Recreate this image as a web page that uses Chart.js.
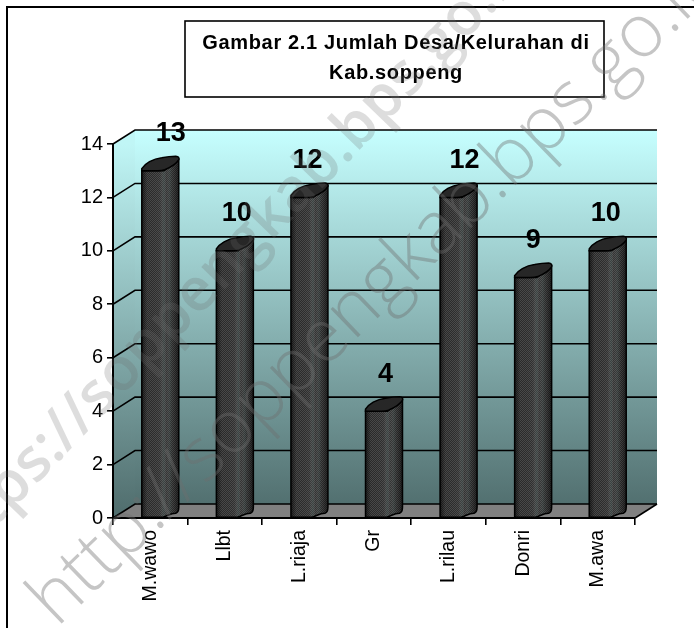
<!DOCTYPE html>
<html>
<head>
<meta charset="utf-8">
<style>html,body{margin:0;padding:0;background:#fff}canvas{display:block}</style>
<script src="https://cdn.jsdelivr.net/npm/chart.js@4"></script>
</head>
<body>
<canvas id="c" width="694" height="628"></canvas>
<script>
const categories = ['M.wawo', 'Llbt', 'L.riaja', 'Gr', 'L.rilau', 'Donri', 'M.awa'];
const villageCounts = [13, 10, 12, 4, 12, 9, 10];
const yTickValues = [0, 2, 4, 6, 8, 10, 12, 14];
const titleLines = ['Gambar 2.1 Jumlah Desa/Kelurahan di', 'Kab.soppeng'];
const watermarkThin = 'http://soppengkab.bps.go.id';
const watermarkBold = 'https://soppengkab.bps.go.id';

const FONT = '"Liberation Sans", Arial, sans-serif';
const DX = 22, DY = -14;          // 3D depth of the box
const BAR_W = 37, BAR_SHIFT = 10; // cylinder width, shift from band centre
const labelNudge = [10.5, 2, -2, 1.5, 6, 0, -2]; // label offsets seen in the reference

function dotPattern(ctx) {
  const p = document.createElement('canvas');
  p.width = p.height = 2;
  const g = p.getContext('2d');
  g.fillStyle = '#2a2a2a'; g.fillRect(0, 0, 2, 2);
  g.fillStyle = '#484848'; g.fillRect(0, 0, 1, 1); g.fillRect(1, 1, 1, 1);
  return ctx.createPattern(p, 'repeat');
}

const box3d = {
  id: 'box3d',
  beforeDraw(chart) {
    const { ctx, chartArea: a, scales: { y } } = chart;
    const top = y.getPixelForValue(14), bot = y.getPixelForValue(0);
    const grad = ctx.createLinearGradient(0, top + DY, 0, bot + DY);
    grad.addColorStop(0, '#c6ffff');
    grad.addColorStop(1, '#527070');
    ctx.save();
    ctx.fillStyle = grad;
    ctx.fillRect(a.left + DX, top + DY, a.right - a.left, bot - top);
    const grad2 = ctx.createLinearGradient(0, top, 0, bot);
    grad2.addColorStop(0, '#c0f6f6');
    grad2.addColorStop(1, '#4f6c6c');
    ctx.fillStyle = grad2;
    ctx.beginPath();
    ctx.moveTo(a.left, top); ctx.lineTo(a.left + DX, top + DY);
    ctx.lineTo(a.left + DX, bot + DY); ctx.lineTo(a.left, bot);
    ctx.closePath(); ctx.fill();
    ctx.fillStyle = '#808080';
    ctx.beginPath();
    ctx.moveTo(a.left, bot); ctx.lineTo(a.left + DX, bot + DY);
    ctx.lineTo(a.right + DX, bot + DY); ctx.lineTo(a.right, bot);
    ctx.closePath(); ctx.fill();
    ctx.strokeStyle = '#000'; ctx.lineWidth = 1.6;
    yTickValues.forEach(v => {
      const py = y.getPixelForValue(v);
      ctx.beginPath();
      ctx.moveTo(a.left, py); ctx.lineTo(a.left + DX, py + DY);
      ctx.lineTo(a.right + DX, py + DY);
      ctx.stroke();
    });
    ctx.beginPath();
    ctx.moveTo(a.right, bot); ctx.lineTo(a.right + DX, bot + DY);
    ctx.stroke();
    ctx.restore();
  },
  beforeDatasetDraw() { return false; },
  afterDatasetsDraw(chart) {
    const { ctx } = chart;
    const meta = chart.getDatasetMeta(0);
    const pat = dotPattern(ctx);
    meta.data.forEach((el, i) => {
      const x0 = el.x + BAR_SHIFT - BAR_W / 2, x1 = x0 + BAR_W;
      const t = el.y, b = el.base;
      ctx.save();
      const body = new Path2D();
      body.moveTo(x0, t);
      body.lineTo(x0, b);
      body.lineTo(x0 + 21, b);
      body.bezierCurveTo(x0 + 26, b - 1, x0 + 28, b - 4, x1 - 3, b - 4);
      body.quadraticCurveTo(x1, b - 5, x1, b - 10);
      body.lineTo(x1, t - 11);
      body.lineTo(x0 + 22, t);
      body.closePath();
      ctx.fillStyle = pat; ctx.fill(body);
      ctx.save();
      ctx.clip(body);
      const shade = ctx.createLinearGradient(x0, 0, x1, 0);
      shade.addColorStop(0, 'rgba(0,0,0,0.55)');
      shade.addColorStop(0.15, 'rgba(0,0,0,0)');
      shade.addColorStop(0.5, 'rgba(255,255,255,0.03)');
      shade.addColorStop(0.6, 'rgba(110,150,145,0.22)');
      shade.addColorStop(0.66, 'rgba(255,255,255,0.03)');
      shade.addColorStop(0.76, 'rgba(110,150,145,0.14)');
      shade.addColorStop(0.86, 'rgba(0,0,0,0.1)');
      shade.addColorStop(1, 'rgba(0,0,0,0.5)');
      ctx.fillStyle = shade;
      ctx.fillRect(x0, t - 16, BAR_W, b - t + 18);
      ctx.restore();
      ctx.strokeStyle = '#000'; ctx.lineWidth = 1.5;
      ctx.stroke(body);
      const cap = new Path2D();
      cap.moveTo(x0, t);
      cap.lineTo(x0, t - 2);
      cap.bezierCurveTo(x0 + 3, t - 7, x0 + 11, t - 12, x0 + 20, t - 13);
      cap.bezierCurveTo(x0 + 25, t - 14, x0 + 30, t - 14.5, x0 + 34, t - 14.5);
      cap.quadraticCurveTo(x1 + 1, t - 14, x1, t - 11);
      cap.bezierCurveTo(x1 - 3, t - 6, x0 + 28, t - 3, x0 + 23, t - 1);
      cap.quadraticCurveTo(x0 + 20, t, x0 + 16, t);
      cap.closePath();
      ctx.fillStyle = '#272727'; ctx.fill(cap);
      ctx.stroke(cap);
      ctx.restore();
      ctx.save();
      ctx.fillStyle = '#000';
      ctx.font = 'bold 27px ' + FONT;
      ctx.textAlign = 'center'; ctx.textBaseline = 'middle';
      ctx.fillText(String(villageCounts[i]), el.x + BAR_SHIFT + labelNudge[i], t - 37);
      ctx.restore();
    });
  },
  afterDraw(chart) {
    const { ctx } = chart;
    ctx.save();
    ctx.strokeStyle = '#000'; ctx.lineWidth = 2;
    ctx.beginPath();
    ctx.moveTo(7, 628); ctx.lineTo(7, 7); ctx.lineTo(694, 7);
    ctx.stroke();
    ctx.fillStyle = '#fff';
    ctx.fillRect(185, 21, 419, 76);
    ctx.lineWidth = 1.6;
    ctx.strokeRect(185, 21, 419, 76);
    ctx.fillStyle = '#000';
    ctx.font = 'bold 20px ' + FONT;
    ctx.textAlign = 'center'; ctx.textBaseline = 'middle';
    ctx.letterSpacing = '0.65px';
    titleLines.forEach((l, i) => ctx.fillText(l, 396, 43 + i * 30));
    ctx.letterSpacing = '0px';
    ctx.restore();
    // watermark lines
    ctx.save();
    ctx.fillStyle = 'rgba(110,110,110,0.4)';
    ctx.textAlign = 'left'; ctx.textBaseline = 'alphabetic';
    ctx.save();
    ctx.font = '300 74px "Open Sans", sans-serif';
    ctx.translate(57, 628); ctx.rotate(-44 * Math.PI / 180);
    ctx.fillText(watermarkThin, 0, 0);
    ctx.restore();
    ctx.save();
    ctx.fillStyle = 'rgba(110,110,110,0.23)';
    ctx.font = '600 60px "Open Sans", sans-serif';
    ctx.translate(-50, 574); ctx.rotate(-46 * Math.PI / 180);
    ctx.fillText(watermarkBold, 0, 0);
    ctx.restore();
    ctx.restore();
  }
};

new Chart(document.getElementById('c'), {
  type: 'bar',
  data: {
    labels: categories,
    datasets: [{ label: 'Jumlah Desa/Kelurahan', data: villageCounts, backgroundColor: '#2b2b2b', borderColor: '#000' }]
  },
  options: {
    responsive: false,
    animation: false,
    layout: { padding: { top: 144, right: 59, bottom: 0, left: 0 } },
    plugins: { legend: { display: false }, title: { display: false }, tooltip: { enabled: false } },
    scales: {
      x: {
        offset: true,
        afterFit(s) { s.height = 110; },
        border: { color: '#000', width: 2 },
        grid: { drawOnChartArea: false, drawTicks: true, tickLength: 7, color: '#000', lineWidth: 1.6 },
        ticks: { color: '#000', font: { family: FONT, size: 19.5 }, minRotation: 90, maxRotation: 90, padding: 5, autoSkip: false }
      },
      y: {
        min: 0, max: 14,
        afterFit(s) { s.width = 113; },
        afterBuildTicks(s) { s.ticks = yTickValues.map(v => ({ value: v })); },
        border: { color: '#000', width: 2 },
        grid: { drawOnChartArea: false, drawTicks: true, tickLength: 6, color: '#000', lineWidth: 1.6 },
        ticks: { color: '#000', font: { family: FONT, size: 20 }, padding: 4 }
      }
    }
  },
  plugins: [box3d]
});
</script>
</body>
</html>
